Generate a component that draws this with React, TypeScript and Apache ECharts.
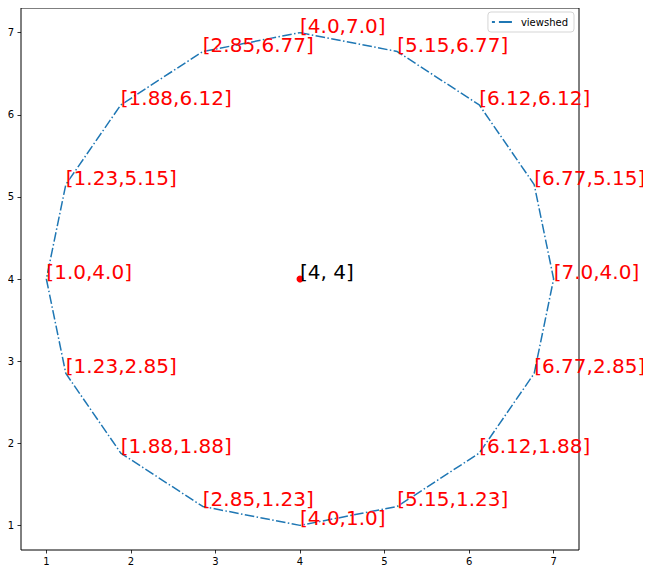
import React, { useEffect, useRef } from "react";
import * as echarts from "echarts";

const xs = [4.0, 5.15, 6.12, 6.77, 7.0, 6.77, 6.12, 5.15, 4.0, 2.85, 1.88, 1.23, 1.0, 1.23, 1.88, 2.85, 4.0];
const ys = [7.0, 6.77, 6.12, 5.15, 4.0, 2.85, 1.88, 1.23, 1.0, 1.23, 1.88, 2.85, 4.0, 5.15, 6.12, 6.77, 7.0];
const center = [4, 4];
const centerLabel = "[4, 4]";
const seriesName = "viewshed";
const tickValues = [1, 2, 3, 4, 5, 6, 7];
const axisMin = 0.7;
const axisMax = 7.3;

const fmt = (v: number) => (Number.isInteger(v) ? v.toFixed(1) : String(v));

export default function App() {
  const ref = useRef<HTMLDivElement>(null);
  useEffect(() => {
    if (!ref.current) return;
    const chart = echarts.init(ref.current, null, { renderer: "svg" });
    const font = "DejaVu Sans";
    const pts = xs.map((x, i) => [x, ys[i]]);
    const labelPts = pts.slice(0, pts.length - 1);
    const axisCommon = {
      type: "value" as const,
      min: axisMin,
      max: axisMax,
      splitLine: { show: false },
      axisLine: { show: false },
      axisTick: {
        show: true,
        customValues: tickValues,
        length: 3.5,
        lineStyle: { color: "#000", width: 0.8 },
      },
    };
    const labelCommon = {
      show: true,
      position: "inside",
      align: "left",
      verticalAlign: "bottom",
      offset: [0, 4],
      fontFamily: font,
      fontSize: 20,
      lineHeight: 22,
      opacity: 1,
    };
    chart.setOption({
      animation: false,
      backgroundColor: "#fff",
      textStyle: { fontFamily: font },
      grid: {
        left: 21,
        right: 72,
        top: 8,
        bottom: 25,
        show: true,
        borderColor: "#000",
        borderWidth: 1,
        backgroundColor: "transparent",
      },
      legend: {
        show: true,
        data: [
          {
            name: seriesName,
            icon: "path://M0,0h3v2h-3z M7,0h13v2h-13z",
          },
        ],
        right: 77,
        top: 12,
        orient: "vertical",
        itemWidth: 20,
        itemHeight: 2,
        itemGap: 8,
        padding: [5, 6, 5, 4],
        borderColor: "#d5d5d5",
        borderWidth: 1,
        borderRadius: 3,
        itemStyle: { color: "#1f77b4" },
        textStyle: { fontFamily: font, fontSize: 10, color: "#000", padding: [0, 0, 0, 4] },
      },
      xAxis: {
        ...axisCommon,
        axisLabel: {
          customValues: tickValues,
          fontFamily: font,
          fontSize: 10,
          color: "#000",
          margin: 6,
        },
      },
      yAxis: {
        ...axisCommon,
        axisLabel: {
          customValues: tickValues,
          fontFamily: font,
          fontSize: 10,
          color: "#000",
          margin: 7,
        },
      },
      series: [
        {
          name: seriesName,
          type: "line",
          data: pts,
          symbol: "none",
          showSymbol: false,
          lineStyle: { color: "#1f77b4", width: 1.5, type: [9.6, 2.4, 1.5, 2.4] },
          itemStyle: { color: "#1f77b4" },
          z: 2,
        },
        {
          name: "labels",
          type: "scatter",
          data: labelPts,
          symbolSize: 1,
          itemStyle: { color: "rgba(0,0,0,0)", opacity: 1 },
          silent: true,
          z: 3,
          label: {
            ...labelCommon,
            color: "#ff0000",
            formatter: (p: any) => `[${fmt(p.value[0])},${fmt(p.value[1])}]`,
          },
        },
        {
          name: "center",
          type: "scatter",
          data: [center],
          symbolSize: 7,
          itemStyle: { color: "#ff0000", opacity: 1 },
          z: 4,
          label: {
            ...labelCommon,
            color: "#000",
            formatter: () => centerLabel,
          },
        },
      ],
    });
    return () => chart.dispose();
  }, []);
  return <div ref={ref} style={{ width: 651, height: 575, margin: -8 }} />;
}
